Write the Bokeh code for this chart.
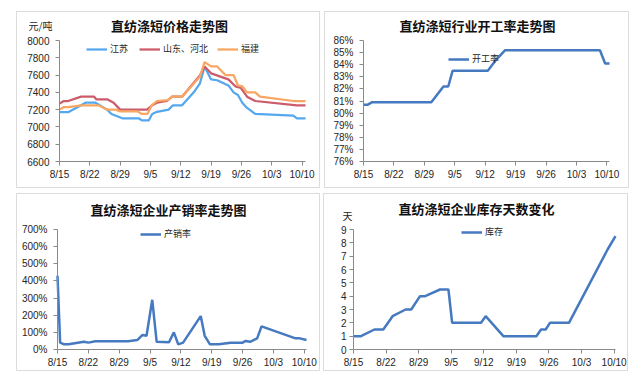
from bokeh.plotting import figure
from bokeh.layouts import row, column
from bokeh.models import Range1d, FixedTicker, Legend, LegendItem, Label, BoxAnnotation, Spacer
from bokeh.embed import file_html
from bokeh.resources import INLINE

# ---------------- data (x = days after 8/15) ----------------
x_tick_days = [0, 7, 14, 21, 28, 35, 42, 49, 56]
x_tick_labels = ["8/15", "8/22", "8/29", "9/5", "9/12", "9/19", "9/26", "10/3", "10/10"]

# price chart (元/吨)
js_days = [0, 2, 5, 6, 8.3, 11, 12, 14.5, 18.3, 19, 20.6, 21.4, 22.5, 25.2, 26.2, 28.3, 31, 32.4, 33.5,
           35, 36.4, 39, 40.2, 41.2, 42.2, 43.3, 45.2, 54, 54.8, 56.8]
js_price = [7170, 7170, 7250, 7280, 7280, 7200, 7150, 7100, 7100, 7075, 7075, 7150, 7175, 7200, 7250, 7250,
            7400, 7500, 7700, 7550, 7540, 7480, 7400, 7370, 7280, 7220, 7150, 7130, 7100, 7100]
sd_days = [0, 1, 2, 5, 8, 8.5, 11, 12.5, 14, 20.2, 21.4, 22.5, 24.8, 26, 28.3, 32.5, 33.5, 35, 39, 40.6,
           41.9, 43.3, 45.2, 54.8, 56.8]
sd_price = [7270, 7300, 7300, 7350, 7350, 7320, 7320, 7280, 7200, 7200, 7250, 7280, 7300, 7350, 7350,
            7600, 7700, 7620, 7550, 7470, 7450, 7350, 7300, 7250, 7250]
fj_days = [0, 1, 2, 5, 9, 11, 13, 14, 18, 19, 20.3, 21.3, 22.5, 25, 26, 28.3, 32.4, 33.5, 35, 36.4, 38.3,
           40.2, 41.2, 42.2, 43.3, 45.2, 46.3, 54, 56.8]
fj_price = [7200, 7230, 7230, 7250, 7250, 7200, 7200, 7180, 7180, 7150, 7150, 7250, 7300, 7310, 7350, 7350,
            7580, 7750, 7700, 7700, 7600, 7600, 7480, 7470, 7400, 7400, 7350, 7300, 7300]
price_ticks = [6600, 6800, 7000, 7200, 7400, 7600, 7800, 8000]
price_labels = ["6600", "6800", "7000", "7200", "7400", "7600", "7800", "8000"]

# operating rate (%)
op_days = [0, 1, 2, 15.6, 18.4, 19.5, 20.5, 28.6, 30.5, 32.6, 54.4, 55.6, 56.6]
op_rate = [80.7, 80.7, 80.9, 80.9, 82.2, 82.2, 83.5, 83.5, 84.4, 85.2, 85.2, 84.1, 84.1]
op_ticks = [76, 77, 78, 79, 80, 81, 82, 83, 84, 85, 86]
op_labels = ["76%", "77%", "78%", "79%", "80%", "81%", "82%", "83%", "84%", "85%", "86%"]

# production / sales ratio (%)
ps_days = [0, 0.6, 1.5, 2.5, 6, 7, 8.6, 16, 18.1, 19.3, 20.2, 21.5, 22.5, 25.3, 26.4, 27.4, 28.5, 32.5,
           33.4, 34.6, 36.6, 39.3, 42, 42.7, 43.7, 45.3, 46.3, 54, 55, 56.5]
ps_rate = [430, 40, 30, 30, 45, 40, 48, 48, 55, 85, 80, 290, 45, 42, 100, 30, 40, 195,
           80, 30, 30, 40, 40, 50, 45, 65, 135, 65, 65, 55]
ps_ticks = [0, 100, 200, 300, 400, 500, 600, 700]
ps_labels = ["0%", "100%", "200%", "300%", "400%", "500%", "600%", "700%"]

# inventory days (天)
inv_days = [0, 1.6, 4.5, 6.4, 8.4, 11.2, 12.4, 14.3, 15.4, 18.6, 20.4, 21.2, 27.4, 28.4, 32.2, 39.3, 40.3,
            41.3, 42.2, 46.3, 54.6, 56.3]
inv_value = [1, 1, 1.5, 1.5, 2.5, 3, 3, 4, 4, 4.5, 4.5, 2, 2, 2.5, 1, 1, 1.5, 1.5, 2, 2, 7.5, 8.5]
inv_ticks = [0, 1, 2, 3, 4, 5, 6, 7, 8, 9]
inv_labels = ["0", "1", "2", "3", "4", "5", "6", "7", "8", "9"]

# ---------------- styling ----------------
CJK = "Noto Sans CJK SC"
NUM = "Liberation Sans"
AXIS = "#8a8a8a"
TXT = "#262626"
BLUE = "#4579C0"


def panel(W, H, left, fw, top, fh, x_end, y0, y1, yticks, ylabels, box_l, box_r, ystand=6):
    # the whole canvas is the frame; the axes sit at fixed data locations inside it
    kx = fw / x_end
    ky = fh / (y1 - y0)
    xr = Range1d(-left / kx, (W - left) / kx)
    yr = Range1d(y0 - (H - top - fh) / ky, y1 + top / ky)
    p = figure(width=W, height=H, x_range=xr, y_range=yr,
               output_backend="svg", toolbar_location=None,
               min_border=0, min_border_left=0, min_border_right=0,
               min_border_top=0, min_border_bottom=0)
    p.outline_line_color = None
    p.grid.visible = False
    p.background_fill_color = "white"
    p.border_fill_color = "white"
    for ax in (p.xaxis[0], p.yaxis[0]):
        ax.axis_line_color = AXIS
        ax.major_tick_line_color = AXIS
        ax.minor_tick_line_color = None
        ax.major_tick_in = 0
        ax.major_tick_out = 4
        ax.major_label_text_font = NUM
        ax.major_label_text_font_size = "10px"
        ax.major_label_text_color = TXT
    p.xaxis.fixed_location = y0
    p.xaxis.bounds = (0, x_end)
    p.xaxis.ticker = FixedTicker(ticks=x_tick_days)
    p.xaxis.major_label_overrides = dict(zip(x_tick_days, x_tick_labels))
    p.xaxis.major_label_standoff = 3
    p.yaxis.fixed_location = 0
    p.yaxis.bounds = (y0, y1)
    p.yaxis.ticker = FixedTicker(ticks=yticks)
    p.yaxis.major_label_overrides = dict(zip(yticks, ylabels))
    p.yaxis.major_label_standoff = ystand
    # chart-area border (vertically symmetric inside the canvas)
    p.add_layout(BoxAnnotation(left=box_l, right=box_r, top=3, bottom=H - 3,
                               left_units="screen", right_units="screen",
                               top_units="screen", bottom_units="screen",
                               fill_alpha=0, line_color="#8c8c8c", line_width=1))
    return p


def title(p, text, x, y):
    p.add_layout(Label(x=x, y=y, x_units="screen", y_units="screen", text=text,
                       text_font=CJK, text_font_style="bold", text_font_size="13px",
                       text_color="#111111", text_align="center", text_baseline="middle"))


def unit(p, text, x, y):
    p.add_layout(Label(x=x, y=y, x_units="screen", y_units="screen", text=text,
                       text_font=CJK, text_font_size="10px", text_color=TXT,
                       text_align="center", text_baseline="middle"))


def legend(p, items, x, y, spacing=9):
    lg = Legend(items=items, location=(x, y), orientation="horizontal", padding=0, margin=0,
                spacing=spacing, glyph_width=21, glyph_height=12, label_height=12,
                label_standoff=3, label_text_font=CJK, label_text_font_size="9px",
                label_text_color=TXT, border_line_alpha=0, background_fill_alpha=0)
    p.add_layout(lg)


# ---- panel 1: prices
p1 = panel(313, 182, 51, 246, 32, 121, 56.8, 6600, 8000, price_ticks, price_labels, 8, 311)
r_js = p1.line(js_days, js_price, line_color="#55A7EE", line_width=2.25)
r_sd = p1.line(sd_days, sd_price, line_color="#CC5B6B", line_width=2.25)
r_fj = p1.line(fj_days, fj_price, line_color="#F8A662", line_width=2.25)
legend(p1, [LegendItem(label="江苏", renderers=[r_js]),
            LegendItem(label="山东、河北", renderers=[r_sd]),
            LegendItem(label="福建", renderers=[r_fj])], 78, 135)
title(p1, "直纺涤短价格走势图", 161, 165)
unit(p1, "元/吨", 32, 165)

# ---- panel 2: operating rate
p2 = panel(313, 182, 42, 246, 32, 121, 56.6, 76, 86, op_ticks, op_labels, 3, 307)
r_op = p2.line(op_days, op_rate, line_color=BLUE, line_width=2.5)
legend(p2, [LegendItem(label="开工率", renderers=[r_op])], 127, 125)
title(p2, "直纺涤短行业开工率走势图", 156, 165)

# ---- panel 3: production/sales ratio
p3 = panel(313, 183, 49, 249, 39, 120, 56.5, 0, 700, ps_ticks, ps_labels, 8, 311)
r_ps = p3.line(ps_days, ps_rate, line_color=BLUE, line_width=2.5)
legend(p3, [LegendItem(label="产销率", renderers=[r_ps])], 132, 133)
title(p3, "直纺涤短企业产销率走势图", 160, 164)

# ---- panel 4: inventory days
p4 = panel(313, 183, 32, 262, 39, 120, 56.3, 0, 9, inv_ticks, inv_labels, 2, 306, ystand=3)
r_inv = p4.line(inv_days, inv_value, line_color=BLUE, line_width=2.5)
legend(p4, [LegendItem(label="库存", renderers=[r_inv])], 140, 135)
title(p4, "直纺涤短企业库存天数变化", 155, 165)
unit(p4, "天", 26, 158)

grid = column(row(p1, p2), row(p3, p4))
layout = column(Spacer(width=8, height=8), row(Spacer(width=8, height=8), grid))

open("out.html", "w").write(file_html(layout, INLINE))
